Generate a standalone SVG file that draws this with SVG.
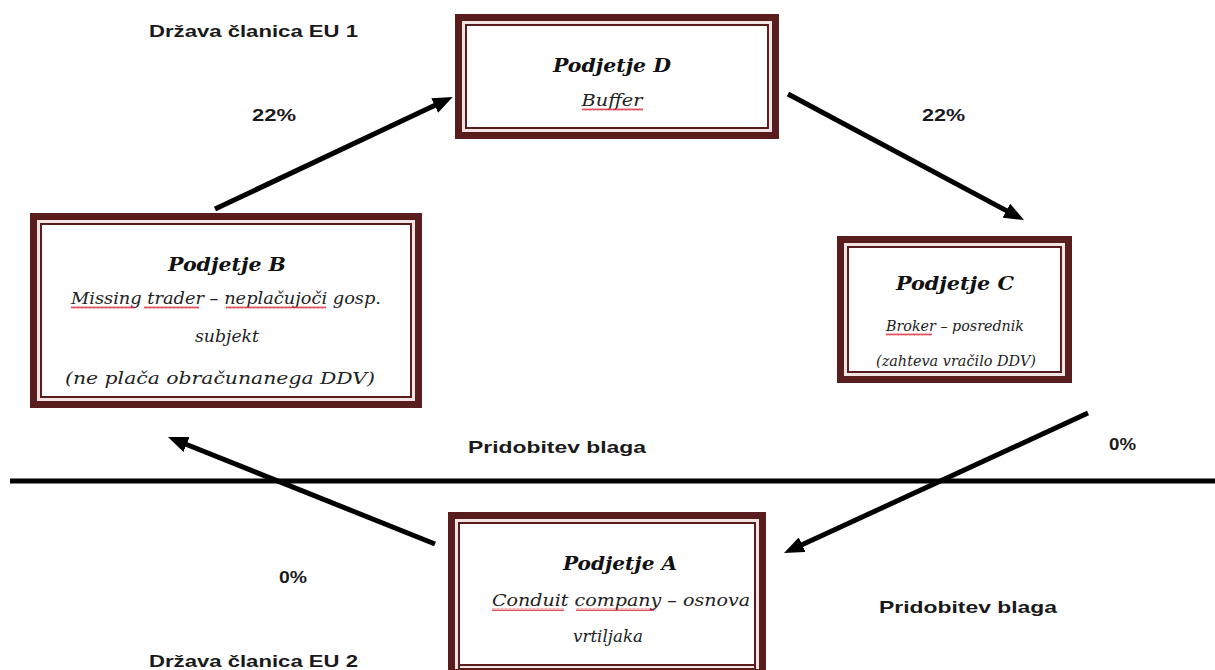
<svg xmlns="http://www.w3.org/2000/svg" width="1215" height="670" viewBox="0 0 1215 670">
<defs>
<style>
.outer{fill:#fff;stroke:#5a1d1d;stroke-width:7}
.inner{fill:none;stroke:#5a1d1d;stroke-width:2}
.gap{fill:none;stroke:#f3e4e4;stroke-width:3}
.title{font-family:"DejaVu Serif","Liberation Serif",serif;font-weight:bold;font-style:italic;font-size:19px;fill:#111;text-anchor:middle}
.body{font-family:"DejaVu Serif","Liberation Serif",serif;font-style:italic;font-size:16px;fill:#222;text-anchor:middle}
.small{font-size:15.5px}
.lbl{font-family:"Liberation Sans",Arial,sans-serif;font-weight:bold;font-size:17px;fill:#1a1a1a}
.conn{stroke:#000;stroke-width:5;fill:none}
.sq{fill:url(#wavy)}
</style>
<marker id="ah" markerUnits="userSpaceOnUse" markerWidth="20" markerHeight="16" refX="8" refY="8" orient="auto">
<path d="M0,0 L20,8 L0,16 z" fill="#000"/>
</marker>
<pattern id="wavy" patternUnits="userSpaceOnUse" width="4" height="3">
<path d="M0,2.5 L1,0.5 L2,2.5 L3,0.5 L4,2.5" stroke="#d23" stroke-width="0.8" fill="none"/>
</pattern>
</defs>

<g id="connectors">
<line x1="10" y1="481" x2="1215" y2="481" stroke="#000" stroke-width="5"/>
<line class="conn" x1="215" y1="209" x2="441.9" y2="102.1" marker-end="url(#ah)"/>
<line class="conn" x1="788" y1="94" x2="1013.4" y2="214.4" marker-end="url(#ah)"/>
<line class="conn" x1="1088" y1="413" x2="794.9" y2="548" marker-end="url(#ah)"/>
<line class="conn" x1="435" y1="544" x2="179.1" y2="441.5" marker-end="url(#ah)"/>
</g>

<g id="node-D">
<rect class="outer" x="458.5" y="17.5" width="317" height="118"/>
<rect class="gap" x="463.5" y="22.5" width="307" height="108"/>
<rect class="inner" x="466" y="25" width="302" height="103"/>
<text class="title" x="612" y="72" textLength="118" lengthAdjust="spacingAndGlyphs">Podjetje D</text>
<text class="body" x="612" y="106" textLength="61" lengthAdjust="spacingAndGlyphs">Buffer</text>
<rect class="sq" x="582" y="108" width="61" height="3"/>
</g>

<g id="node-B">
<rect class="outer" x="33.5" y="216.5" width="385" height="188"/>
<rect class="gap" x="38.5" y="221.5" width="375" height="178"/>
<rect class="inner" x="41" y="224" width="370" height="173"/>
<text class="title" x="227" y="271" textLength="118" lengthAdjust="spacingAndGlyphs">Podjetje B</text>
<text class="body" x="226" y="304" textLength="310" lengthAdjust="spacingAndGlyphs">Missing trader – neplačujoči gosp.</text>
<text class="body" x="227" y="342" textLength="64" lengthAdjust="spacingAndGlyphs">subjekt</text>
<text class="body" x="220" y="384" textLength="310" lengthAdjust="spacingAndGlyphs">(ne plača obračunanega DDV)</text>
<rect class="sq" x="71" y="306" width="64" height="3"/>
<rect class="sq" x="144" y="306" width="55" height="3"/>
<rect class="sq" x="226" y="306" width="100" height="3"/>
</g>

<g id="node-C">
<rect class="outer" x="840.5" y="239.5" width="228" height="140"/>
<rect class="gap" x="845.5" y="244.5" width="218" height="130"/>
<rect class="inner" x="848" y="247" width="213" height="125"/>
<text class="title" x="955" y="290" textLength="118" lengthAdjust="spacingAndGlyphs">Podjetje C</text>
<text class="body small" x="955" y="331" textLength="138" lengthAdjust="spacingAndGlyphs">Broker – posrednik</text>
<text class="body small" x="956" y="366" textLength="160" lengthAdjust="spacingAndGlyphs">(zahteva vračilo DDV)</text>
<rect class="sq" x="886" y="333" width="46" height="3"/>
</g>

<g id="node-A">
<rect class="outer" x="451.5" y="515.5" width="311" height="152"/>
<rect class="gap" x="456.5" y="520.5" width="301" height="147"/>
<rect class="inner" x="459" y="523" width="296" height="146"/>
<text class="title" x="620" y="570" textLength="114" lengthAdjust="spacingAndGlyphs">Podjetje A</text>
<text class="body" x="621" y="606" textLength="258" lengthAdjust="spacingAndGlyphs">Conduit company – osnova</text>
<text class="body" x="608" y="642" textLength="70" lengthAdjust="spacingAndGlyphs">vrtiljaka</text>
<rect class="sq" x="492" y="608" width="72" height="3"/>
<rect class="sq" x="576" y="608" width="78" height="3"/>
</g>

<g id="labels">
<text class="lbl" x="149" y="37" textLength="209" lengthAdjust="spacingAndGlyphs">Država članica EU 1</text>
<text class="lbl" x="252" y="121" textLength="44" lengthAdjust="spacingAndGlyphs">22%</text>
<text class="lbl" x="922" y="121" textLength="43" lengthAdjust="spacingAndGlyphs">22%</text>
<text class="lbl" x="468" y="453" textLength="178" lengthAdjust="spacingAndGlyphs">Pridobitev blaga</text>
<text class="lbl" x="1109" y="450" textLength="27" lengthAdjust="spacingAndGlyphs">0%</text>
<text class="lbl" x="279" y="583" textLength="28" lengthAdjust="spacingAndGlyphs">0%</text>
<text class="lbl" x="879" y="613" textLength="178" lengthAdjust="spacingAndGlyphs">Pridobitev blaga</text>
<text class="lbl" x="149" y="667" textLength="209" lengthAdjust="spacingAndGlyphs">Država članica EU 2</text>
</g>
</svg>
